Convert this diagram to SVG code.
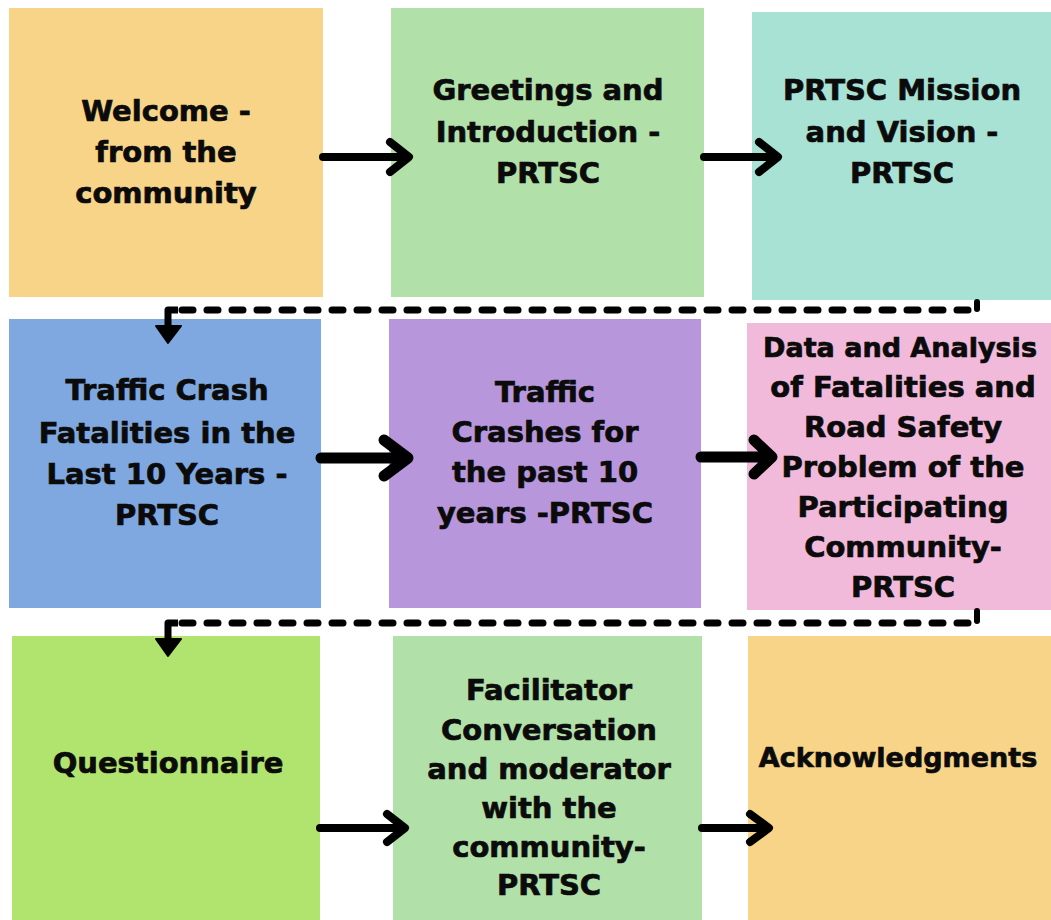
<svg xmlns="http://www.w3.org/2000/svg" width="1051" height="920" viewBox="0 0 1051 920">
<style>
.t{font-family:"DejaVu Sans","Liberation Sans",sans-serif;font-weight:bold;font-size:29px;fill:#0b0b0b;stroke:#0b0b0b;stroke-width:0.7;text-anchor:middle}
.s{font-size:27px}
.arr{fill:none;stroke:#000;stroke-linecap:round;stroke-linejoin:round}
.dash{fill:none;stroke:#000;stroke-width:7;stroke-dasharray:11 14;stroke-linecap:round}
</style>
<rect width="1051" height="920" fill="#ffffff"/>
<g id="n1"><rect x="9" y="8" width="314" height="289" fill="#F7D487"/>
<text class="t"><tspan x="166" y="121">Welcome -</tspan><tspan x="166" y="162">from the</tspan><tspan x="166" y="203">community</tspan></text></g>
<g id="n2"><rect x="391" y="8" width="313" height="289" fill="#B1E0A8"/>
<text class="t"><tspan x="548" y="100">Greetings and</tspan><tspan x="548" y="142">Introduction -</tspan><tspan x="548" y="183">PRTSC</tspan></text></g>
<g id="n3"><rect x="752" y="12" width="299" height="288" fill="#A8E2D4"/>
<text class="t"><tspan x="902" y="100">PRTSC Mission</tspan><tspan x="902" y="142">and Vision -</tspan><tspan x="902" y="183">PRTSC</tspan></text></g>
<g id="n4"><rect x="9" y="319" width="312" height="289" fill="#7EA8DF"/>
<text class="t"><tspan x="167" y="400">Traffic Crash</tspan><tspan x="167" y="443">Fatalities in the</tspan><tspan x="167" y="484">Last 10 Years -</tspan><tspan x="167" y="525">PRTSC</tspan></text></g>
<g id="n5"><rect x="389" y="319" width="312" height="289" fill="#B896DB"/>
<text class="t"><tspan x="545" y="402">Traffic</tspan><tspan x="545" y="442">Crashes for</tspan><tspan x="545" y="482">the past 10</tspan><tspan x="545" y="523">years -PRTSC</tspan></text></g>
<g id="n6"><rect x="747" y="323" width="304" height="287" fill="#F1B9DA"/>
<text class="t s" x="900" y="357">Data and Analysis</text>
<text class="t"><tspan x="903" y="397">of Fatalities and</tspan><tspan x="903" y="437">Road Safety</tspan><tspan x="903" y="477">Problem of the</tspan><tspan x="903" y="517">Participating</tspan><tspan x="903" y="557">Community-</tspan><tspan x="903" y="597">PRTSC</tspan></text></g>
<g id="n7"><rect x="12" y="636" width="308" height="284" fill="#B0E46E"/>
<text class="t"><tspan x="168" y="773">Questionnaire</tspan></text></g>
<g id="n8"><rect x="393" y="636" width="309" height="284" fill="#B1E0A8"/>
<text class="t"><tspan x="549" y="700">Facilitator</tspan><tspan x="549" y="740">Conversation</tspan><tspan x="549" y="779">and moderator</tspan><tspan x="549" y="818">with the</tspan><tspan x="549" y="857">community-</tspan><tspan x="549" y="895">PRTSC</tspan></text></g>
<g id="n9"><rect x="748" y="636" width="303" height="284" fill="#F7D487"/>
<text class="t s" x="898" y="767">Acknowledgments</text></g>
<g id="connectors">
<path class="arr" stroke-width="8" d="M323,157 H405 M390,142 L409,157 L390,172"/>
<path class="arr" stroke-width="8" d="M704,157 H774 M759,142 L778,157 L759,172"/>
<path class="arr" stroke-width="11" d="M321,458 H404 M384,440 L408,458 L384,476"/>
<path class="arr" stroke-width="11" d="M701,457 H768 M754,440 L772,457 L754,474"/>
<path class="arr" stroke-width="8" d="M320,828 H402 M387,814 L405,828 L387,842"/>
<path class="arr" stroke-width="8" d="M702,828 H766 M750,814 L769,828 L750,842"/>
<path d="M977,302 V309" stroke="#000" stroke-width="6" stroke-linecap="round"/>
<path class="dash" d="M968,310 H180"/>
<path d="M178,310 H168 V328" fill="none" stroke="#000" stroke-width="7" stroke-linejoin="round"/>
<polygon points="156,326 181,326 168,343" fill="#000" stroke="#000" stroke-width="2" stroke-linejoin="round"/>
<path d="M977,611 V621" stroke="#000" stroke-width="6" stroke-linecap="round"/>
<path class="dash" d="M968,623 H180"/>
<path d="M178,623 H168 V641" fill="none" stroke="#000" stroke-width="7" stroke-linejoin="round"/>
<polygon points="156,639 181,639 168,656" fill="#000" stroke="#000" stroke-width="2" stroke-linejoin="round"/>
</g>
</svg>
